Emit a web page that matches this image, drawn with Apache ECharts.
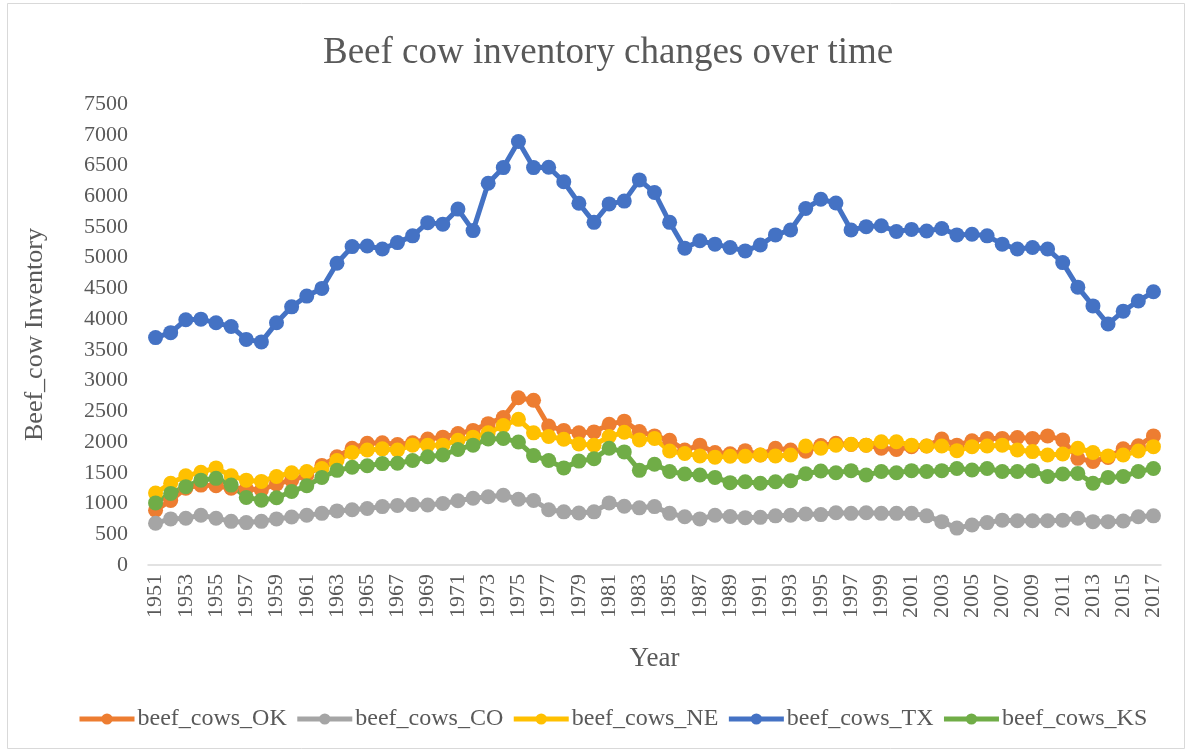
<!DOCTYPE html>
<html>
<head>
<meta charset="utf-8">
<script src="https://cdn.jsdelivr.net/npm/echarts@6/dist/echarts.min.js"></script>
<style>
  html, body { margin: 0; padding: 0; background: #fff; }
  #chart { width: 1190px; height: 752px; }
</style>
</head>
<body>
<div id="chart"></div>
<script>
// years 1951..2017
var years = [];
for (var y = 1951; y <= 2017; y++) years.push(String(y));

var beefCowsOK = [
  890, 1050, 1250, 1300, 1290, 1250, 1240, 1220, 1320, 1380,
  1460, 1620, 1760, 1900, 1980, 1990, 1960, 1990, 2050, 2080,
  2140, 2190, 2300, 2400, 2720, 2680, 2260, 2190, 2150, 2165,
  2290, 2340, 2170, 2100, 2030, 1870, 1950, 1830, 1810, 1860,
  1790, 1900, 1870, 1850, 1945, 1980, 1960, 1950, 1900, 1880,
  1925, 1935, 2050, 1950, 2020, 2060, 2060, 2075, 2060, 2100,
  2035, 1735, 1685, 1750, 1890, 1940, 2100
];
var beefCowsCO = [
  680, 750, 760, 810, 760, 710, 690, 710, 750, 780,
  810, 840, 880, 900, 920, 950, 970, 985, 975, 1000,
  1045, 1085, 1110, 1135, 1070, 1050, 900, 865, 845, 865,
  1010, 955, 930, 950, 840, 785, 750, 810, 790, 770,
  775, 800, 810, 830, 820, 850, 840, 850, 840, 840,
  840, 800, 705, 600, 650, 690, 730, 720, 720, 720,
  730, 760, 705, 705, 715, 785, 800
];
var beefCowsNE = [
  1170, 1330, 1450, 1510, 1580, 1450, 1380, 1360, 1440, 1500,
  1520, 1570, 1700, 1830, 1870, 1890, 1870, 1950, 1950, 1950,
  2030, 2080, 2150, 2270, 2370, 2150, 2090, 2045, 1970, 1950,
  2090, 2160, 2035, 2060, 1855, 1815, 1775, 1755, 1770, 1770,
  1790, 1775, 1790, 1935, 1900, 1950, 1965, 1950, 2005, 2005,
  1950, 1935, 1935, 1860, 1925, 1935, 1950, 1870, 1845, 1790,
  1805, 1900, 1830, 1775, 1790, 1855, 1925
];
var beefCowsTX = [
  3700, 3780, 3990, 4000, 3940, 3880, 3670, 3630, 3940, 4200,
  4375, 4500, 4910, 5180, 5190, 5140, 5245, 5355, 5570, 5545,
  5790, 5440, 6210, 6465, 6890, 6465, 6470, 6235, 5885, 5575,
  5875, 5920, 6265, 6060, 5575, 5155, 5275, 5220, 5165, 5110,
  5205, 5370, 5450, 5800, 5950, 5890, 5450, 5505, 5520, 5425,
  5460, 5435, 5475, 5370, 5380, 5355, 5220, 5140, 5165, 5140,
  4920, 4520, 4215, 3920, 4130, 4295, 4445
];
var beefCowsKS = [
  1010, 1165, 1275, 1380, 1410, 1300, 1100, 1055, 1095, 1195,
  1290, 1425, 1540, 1590, 1615, 1650, 1655, 1700, 1760, 1790,
  1880, 1950, 2050, 2060, 2000, 1780, 1700, 1580, 1690, 1730,
  1900, 1840, 1540, 1640, 1520, 1480, 1465, 1425, 1340, 1355,
  1330, 1355, 1370, 1485, 1530, 1500, 1535, 1465, 1520, 1500,
  1535, 1520, 1535, 1570, 1545, 1570, 1520, 1520, 1535, 1440,
  1480, 1490, 1330, 1425, 1440, 1520, 1570
];

var seriesNames = ['beef_cows_OK', 'beef_cows_CO', 'beef_cows_NE', 'beef_cows_TX', 'beef_cows_KS'];
var seriesData = [beefCowsOK, beefCowsCO, beefCowsNE, beefCowsTX, beefCowsKS];
var seriesColors = ['#ED7D31', '#A5A5A5', '#FFC000', '#4472C4', '#70AD47'];

var font = '"Liberation Serif", "Times New Roman", serif';
var textColor = '#595959';

var chart = echarts.init(document.getElementById('chart'));

var series = [];
for (var i = 0; i < seriesNames.length; i++) {
  series.push({
    name: seriesNames[i],
    type: 'line',
    data: seriesData[i],
    symbol: 'circle',
    symbolSize: 15,
    showAllSymbol: true,
    color: seriesColors[i],
    lineStyle: { width: 5 },
    itemStyle: { color: seriesColors[i] },
    animation: false
  });
}

chart.setOption({
  backgroundColor: '#fff',
  title: {
    text: 'Beef cow inventory changes over time',
    left: 318,
    top: 30,
    textStyle: { fontFamily: font, fontSize: 37, fontWeight: 'normal', color: textColor }
  },
  graphic: [{
    type: 'rect',
    shape: { x: 7.5, y: 3.5, width: 1177, height: 745 },
    style: { fill: 'none', stroke: '#d9d9d9', lineWidth: 1 },
    silent: true
  }],
  legend: {
    bottom: 16,
    left: 72,
    itemWidth: 55,
    itemHeight: 14,
    itemGap: 8,
    lineStyle: { width: 5 },
    textStyle: { fontFamily: font, fontSize: 24, color: textColor, padding: [0, 0, 0, -2] },
    data: seriesNames
  },
  grid: {
    left: 148,
    right: 29,
    top: 104,
    bottom: 187,
    containLabel: false
  },
  xAxis: {
    type: 'category',
    data: years,
    boundaryGap: true,
    name: 'Year',
    nameLocation: 'middle',
    nameGap: 80,
    nameTextStyle: { fontFamily: font, fontSize: 27, color: textColor },
    axisLine: { lineStyle: { color: '#d9d9d9', width: 1.5 } },
    axisTick: { show: false },
    axisLabel: {
      interval: 1,
      rotate: 90,
      margin: 9,
      fontFamily: font,
      fontSize: 22,
      color: textColor
    }
  },
  yAxis: {
    type: 'value',
    min: 0,
    max: 7500,
    interval: 500,
    name: 'Beef_cow Inventory',
    nameLocation: 'middle',
    nameGap: 100,
    nameTextStyle: { fontFamily: font, fontSize: 26, color: textColor },
    axisLine: { show: false },
    axisTick: { show: false },
    splitLine: { show: false },
    axisLabel: {
      fontFamily: font,
      fontSize: 22,
      color: textColor,
      margin: 20,
      formatter: function (v) { return String(v); }
    }
  },
  series: series
});
</script>
</body>
</html>
